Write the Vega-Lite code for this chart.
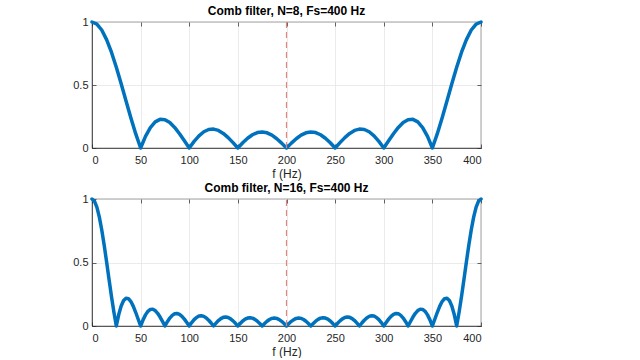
{
  "$schema": "https://vega.github.io/schema/vega-lite/v6.json",
  "padding": {"left": 71, "top": 4, "right": 5, "bottom": 0},
  "background": "white",
  "spacing": 1,
  "config": {
    "view": {"stroke": "#262626", "strokeWidth": 0.7},
    "font": "Liberation Sans",
    "axis": {
      "domainColor": "#262626", "domainWidth": 0.7,
      "tickColor": "#262626", "tickSize": -4, "tickWidth": 0.7,
      "labelFont": "Liberation Sans", "labelFontSize": 11, "labelColor": "#262626", "labelPadding": 8,
      "gridColor": "#E3E3E3", "gridWidth": 0.7,
      "titleFont": "Liberation Sans", "titleFontSize": 12, "titleFontWeight": "normal", "titleColor": "#262626", "titlePadding": 1
    },
    "axisBottom": {"labelPadding": 10},
    "title": {"font": "Liberation Sans", "fontSize": 12, "fontWeight": "bold", "color": "#000000", "offset": -2, "anchor": "middle"}
  },
  "datasets": {
    "n8": [
      {"f":0,"h":1},{"f":5,"h":0.9839},{"f":10,"h":0.9364},{"f":15,"h":0.8604},{"f":20,"h":0.76},{"f":25,"h":0.6407},{"f":30,"h":0.5092},{"f":35,"h":0.3726},{"f":40,"h":0.2378},{"f":45,"h":0.1116},
      {"f":50,"h":0},{"f":55,"h":0.0923},{"f":60,"h":0.1618},{"f":65,"h":0.207},{"f":70,"h":0.2275},{"f":75,"h":0.225},{"f":80,"h":0.2023},{"f":85,"h":0.1633},{"f":90,"h":0.1131},{"f":95,"h":0.0569},
      {"f":100,"h":0},{"f":105,"h":0.0526},{"f":110,"h":0.0966},{"f":115,"h":0.1288},{"f":120,"h":0.1469},{"f":125,"h":0.1503},{"f":130,"h":0.1394},{"f":135,"h":0.1159},{"f":140,"h":0.0825},{"f":145,"h":0.0425},
      {"f":150,"h":0},{"f":155,"h":0.0412},{"f":160,"h":0.0773},{"f":165,"h":0.1051},{"f":170,"h":0.1223},{"f":175,"h":0.1274},{"f":180,"h":0.1204},{"f":185,"h":0.1018},{"f":190,"h":0.0737},{"f":195,"h":0.0387},
      {"f":200,"h":0},{"f":205,"h":0.0387},{"f":210,"h":0.0737},{"f":215,"h":0.1018},{"f":220,"h":0.1204},{"f":225,"h":0.1274},{"f":230,"h":0.1223},{"f":235,"h":0.1051},{"f":240,"h":0.0773},{"f":245,"h":0.0412},
      {"f":250,"h":0},{"f":255,"h":0.0425},{"f":260,"h":0.0825},{"f":265,"h":0.1159},{"f":270,"h":0.1394},{"f":275,"h":0.1503},{"f":280,"h":0.1469},{"f":285,"h":0.1288},{"f":290,"h":0.0966},{"f":295,"h":0.0526},
      {"f":300,"h":0},{"f":305,"h":0.0569},{"f":310,"h":0.1131},{"f":315,"h":0.1633},{"f":320,"h":0.2023},{"f":325,"h":0.225},{"f":330,"h":0.2275},{"f":335,"h":0.207},{"f":340,"h":0.1618},{"f":345,"h":0.0923},
      {"f":350,"h":0},{"f":355,"h":0.1116},{"f":360,"h":0.2378},{"f":365,"h":0.3726},{"f":370,"h":0.5092},{"f":375,"h":0.6407},{"f":380,"h":0.76},{"f":385,"h":0.8604},{"f":390,"h":0.9364},{"f":395,"h":0.9839},{"f":400,"h":1}
    ],
    "n16": [
      {"f":0,"h":1},{"f":2.5,"h":0.9837},{"f":5,"h":0.9357},{"f":7.5,"h":0.8589},{"f":10,"h":0.7576},{"f":12.5,"h":0.6376},{"f":15,"h":0.5057},{"f":17.5,"h":0.369},{"f":20,"h":0.2348},{"f":22.5,"h":0.1099},
      {"f":25,"h":0},{"f":27.5,"h":0.0901},{"f":30,"h":0.1574},{"f":32.5,"h":0.2003},{"f":35,"h":0.219},{"f":37.5,"h":0.2153},{"f":40,"h":0.1924},{"f":42.5,"h":0.1543},{"f":45,"h":0.1061},{"f":47.5,"h":0.053},
      {"f":50,"h":0},{"f":52.5,"h":0.0482},{"f":55,"h":0.0877},{"f":57.5,"h":0.1159},{"f":60,"h":0.1309},{"f":62.5,"h":0.1326},{"f":65,"h":0.1217},{"f":67.5,"h":0.1},{"f":70,"h":0.0703},{"f":72.5,"h":0.0358},
      {"f":75,"h":0},{"f":77.5,"h":0.0338},{"f":80,"h":0.0625},{"f":82.5,"h":0.0838},{"f":85,"h":0.096},{"f":87.5,"h":0.0985},{"f":90,"h":0.0915},{"f":92.5,"h":0.0761},{"f":95,"h":0.0541},{"f":97.5,"h":0.0279},
      {"f":100,"h":0},{"f":102.5,"h":0.0268},{"f":105,"h":0.05},{"f":107.5,"h":0.0676},{"f":110,"h":0.0782},{"f":112.5,"h":0.0809},{"f":115,"h":0.0757},{"f":117.5,"h":0.0634},{"f":120,"h":0.0454},{"f":122.5,"h":0.0235},
      {"f":125,"h":0},{"f":127.5,"h":0.0229},{"f":130,"h":0.0431},{"f":132.5,"h":0.0586},{"f":135,"h":0.0681},{"f":137.5,"h":0.0709},{"f":140,"h":0.0667},{"f":142.5,"h":0.0562},{"f":145,"h":0.0405},{"f":147.5,"h":0.0211},
      {"f":150,"h":0},{"f":152.5,"h":0.0207},{"f":155,"h":0.0392},{"f":157.5,"h":0.0535},{"f":160,"h":0.0625},{"f":162.5,"h":0.0653},{"f":165,"h":0.0618},{"f":167.5,"h":0.0523},{"f":170,"h":0.0378},{"f":172.5,"h":0.0198},
      {"f":175,"h":0},{"f":177.5,"h":0.0196},{"f":180,"h":0.0372},{"f":182.5,"h":0.051},{"f":185,"h":0.0599},{"f":187.5,"h":0.0628},{"f":190,"h":0.0596},{"f":192.5,"h":0.0507},{"f":195,"h":0.0368},{"f":197.5,"h":0.0193},
      {"f":200,"h":0},{"f":202.5,"h":0.0193},{"f":205,"h":0.0368},{"f":207.5,"h":0.0507},{"f":210,"h":0.0596},{"f":212.5,"h":0.0628},{"f":215,"h":0.0599},{"f":217.5,"h":0.051},{"f":220,"h":0.0372},{"f":222.5,"h":0.0196},
      {"f":225,"h":0},{"f":227.5,"h":0.0198},{"f":230,"h":0.0378},{"f":232.5,"h":0.0523},{"f":235,"h":0.0618},{"f":237.5,"h":0.0653},{"f":240,"h":0.0625},{"f":242.5,"h":0.0535},{"f":245,"h":0.0392},{"f":247.5,"h":0.0207},
      {"f":250,"h":0},{"f":252.5,"h":0.0211},{"f":255,"h":0.0405},{"f":257.5,"h":0.0562},{"f":260,"h":0.0667},{"f":262.5,"h":0.0709},{"f":265,"h":0.0681},{"f":267.5,"h":0.0586},{"f":270,"h":0.0431},{"f":272.5,"h":0.0229},
      {"f":275,"h":0},{"f":277.5,"h":0.0235},{"f":280,"h":0.0454},{"f":282.5,"h":0.0634},{"f":285,"h":0.0757},{"f":287.5,"h":0.0809},{"f":290,"h":0.0782},{"f":292.5,"h":0.0676},{"f":295,"h":0.05},{"f":297.5,"h":0.0268},
      {"f":300,"h":0},{"f":302.5,"h":0.0279},{"f":305,"h":0.0541},{"f":307.5,"h":0.0761},{"f":310,"h":0.0915},{"f":312.5,"h":0.0985},{"f":315,"h":0.096},{"f":317.5,"h":0.0838},{"f":320,"h":0.0625},{"f":322.5,"h":0.0338},
      {"f":325,"h":0},{"f":327.5,"h":0.0358},{"f":330,"h":0.0703},{"f":332.5,"h":0.1},{"f":335,"h":0.1217},{"f":337.5,"h":0.1326},{"f":340,"h":0.1309},{"f":342.5,"h":0.1159},{"f":345,"h":0.0877},{"f":347.5,"h":0.0482},
      {"f":350,"h":0},{"f":352.5,"h":0.053},{"f":355,"h":0.1061},{"f":357.5,"h":0.1543},{"f":360,"h":0.1924},{"f":362.5,"h":0.2153},{"f":365,"h":0.219},{"f":367.5,"h":0.2003},{"f":370,"h":0.1574},{"f":372.5,"h":0.0901},
      {"f":375,"h":0},{"f":377.5,"h":0.1099},{"f":380,"h":0.2348},{"f":382.5,"h":0.369},{"f":385,"h":0.5057},{"f":387.5,"h":0.6376},{"f":390,"h":0.7576},{"f":392.5,"h":0.8589},{"f":395,"h":0.9357},{"f":397.5,"h":0.9837},{"f":400,"h":1}
    ],
    "marker": [{"f": 200, "lo": 0, "hi": 1}]
  },
  "vconcat": [
    {
      "title": "Comb filter, N=8, Fs=400 Hz",
      "width": 389, "height": 126,
      "layer": [
        {
          "data": {"name": "n8"},
          "mark": {"type": "line", "color": "#0072BD", "strokeWidth": 3.5, "strokeJoin": "round", "strokeCap": "round", "clip": false},
          "encoding": {
            "x": {"field": "f", "type": "quantitative", "scale": {"domain": [0, 400], "nice": false}, "axis": {"values": [0,50,100,150,200,250,300,350,400], "title": "f (Hz)", "minExtent": 19, "maxExtent": 19}},
            "y": {"field": "h", "type": "quantitative", "scale": {"domain": [0, 1], "nice": false}, "axis": {"values": [0, 0.5, 1], "format": "~g", "title": null, "minExtent": 20, "maxExtent": 20}}
          }
        },
        {
          "data": {"name": "marker"},
          "mark": {"type": "rule", "color": "#E0857F", "strokeDash": [6, 4], "strokeWidth": 1.2},
          "encoding": {
            "x": {"field": "f", "type": "quantitative", "axis": {"orient": "top", "values": [0,50,100,150,200,250,300,350,400], "labels": false, "title": null, "grid": false, "domain": false, "minExtent": 0, "maxExtent": 0}},
            "y": {"field": "lo", "type": "quantitative", "axis": {"orient": "right", "values": [0, 0.5, 1], "labels": false, "title": null, "grid": false, "domain": false, "minExtent": 0, "maxExtent": 0}},
            "y2": {"field": "hi"}
          }
        }
      ],
      "resolve": {"axis": {"x": "independent", "y": "independent"}}
    },
    {
      "title": "Comb filter, N=16, Fs=400 Hz",
      "width": 389, "height": 127,
      "layer": [
        {
          "data": {"name": "n16"},
          "mark": {"type": "line", "color": "#0072BD", "strokeWidth": 3.5, "strokeJoin": "round", "strokeCap": "round", "clip": false},
          "encoding": {
            "x": {"field": "f", "type": "quantitative", "scale": {"domain": [0, 400], "nice": false}, "axis": {"values": [0,50,100,150,200,250,300,350,400], "title": "f (Hz)", "minExtent": 19, "maxExtent": 19}},
            "y": {"field": "h", "type": "quantitative", "scale": {"domain": [0, 1], "nice": false}, "axis": {"values": [0, 0.5, 1], "format": "~g", "title": null, "minExtent": 20, "maxExtent": 20}}
          }
        },
        {
          "data": {"name": "marker"},
          "mark": {"type": "rule", "color": "#E0857F", "strokeDash": [6, 4], "strokeWidth": 1.2},
          "encoding": {
            "x": {"field": "f", "type": "quantitative", "axis": {"orient": "top", "values": [0,50,100,150,200,250,300,350,400], "labels": false, "title": null, "grid": false, "domain": false, "minExtent": 0, "maxExtent": 0}},
            "y": {"field": "lo", "type": "quantitative", "axis": {"orient": "right", "values": [0, 0.5, 1], "labels": false, "title": null, "grid": false, "domain": false, "minExtent": 0, "maxExtent": 0}},
            "y2": {"field": "hi"}
          }
        }
      ],
      "resolve": {"axis": {"x": "independent", "y": "independent"}}
    }
  ]
}
